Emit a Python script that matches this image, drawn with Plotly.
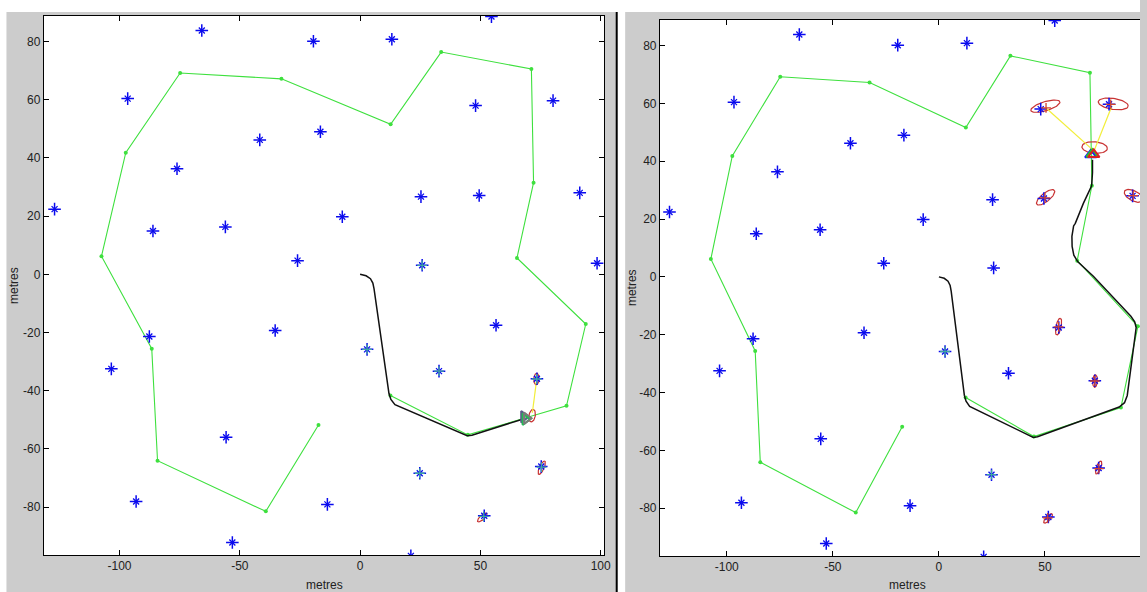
import numpy as np
import plotly.graph_objects as go

# ---------------------------------------------------------------- map data (metres)
# landmark positions
lm_x = [-65.8, -19.4, 13.2, 54.6, -96.6, 48.0, 80.2, -41.7, -16.5, -76.1, 25.3, 49.5,
        91.3, -127.0, -86.1, -56.0, -7.4, -26.0, 25.8, 98.5, 56.5, -35.3, -87.6, 2.9,
        -103.4, 32.8, 73.5, -55.7, 75.3, 24.8, -93.1, -13.6, 51.6, -53.1, 21.1]
lm_y = [83.8, 80.1, 80.8, 88.6, 60.4, 58.0, 59.7, 46.2, 49.0, 36.3, 26.7, 27.1,
        28.0, 22.4, 14.9, 16.3, 19.8, 4.7, 3.1, 3.8, -17.5, -19.3, -21.4, -25.8,
        -32.5, -33.3, -35.9, -56.0, -66.1, -68.4, -78.1, -79.1, -83.0, -92.2, -96.8]

# waypoint route
wp_x = [12.6, 44.8, 85.8, 93.8, 65.2, 72.1, 71.2, 33.7, 12.7, -32.7, -74.8, -97.4,
        -107.5, -86.6, -84.2, -39.2, -17.3]
wp_y = [-41.7, -55.2, -45.2, -17.1, 5.6, 31.5, 70.6, 76.4, 51.6, 67.2, 69.2, 41.8,
        6.2, -25.6, -64.1, -81.5, -51.8]

# vehicle trajectory, early snapshot
path_a_x = [0.0, 2.5, 4.3, 5.3, 5.8, 12.0, 12.8, 14.5, 44.5, 46.5, 67.5]
path_a_y = [0.0, -0.5, -1.5, -3.0, -5.0, -41.0, -43.0, -44.8, -55.5, -55.3, -49.8]

# vehicle trajectory, later snapshot
path_b_x = [0.0, 2.5, 4.3, 5.3, 5.8, 12.0, 12.8, 14.5, 44.5, 46.5, 85.0, 87.5, 88.8,
            92.8, 93.0, 92.3, 90.5, 72.8, 65.5, 63.6, 62.8, 62.7, 63.5, 64.3, 68.1,
            72.0, 72.4, 72.4]
path_b_y = [0.0, -0.5, -1.5, -3.0, -5.0, -41.0, -43.0, -44.8, -55.5, -55.3, -45.0,
            -43.5, -41.0, -20.0, -17.5, -15.5, -13.6, 0.2, 5.2, 7.5, 10.5, 14.0,
            17.6, 18.5, 25.4, 31.5, 36.0, 40.5]

# estimated landmark positions (early snapshot)
est_a_x = [25.8, 2.9, 32.8, 73.4, 75.4, 24.8, 51.4]
est_a_y = [3.1, -25.8, -33.3, -36.0, -66.3, -68.4, -83.2]

# estimated landmark positions (later snapshot): recently observed / older
est_b_x = [50.5, 81.0, 50.0, 91.6, 56.4, 73.5, 75.4, 51.3]
est_b_y = [58.4, 59.6, 27.3, 28.1, -17.3, -36.0, -66.3, -83.3]
est_b_old_x = [24.8, 2.9]
est_b_old_y = [-68.4, -25.8]

# covariance ellipses: centre, semi-axes, orientation (deg)
ell_a_cx = [73.3, 71.5, 75.5, 50.8]
ell_a_cy = [-36.0, -48.6, -66.5, -83.6]
ell_a_a = [2.0, 2.2, 2.6, 2.4]
ell_a_b = [1.1, 1.3, 0.9, 0.8]
ell_a_ang = [85.0, 75.0, 60.0, 35.0]

ell_b_cx = [50.2, 82.2, 73.4, 50.3, 91.8, 56.4, 73.6, 75.3, 51.5]
ell_b_cy = [59.0, 59.8, 44.7, 27.5, 28.0, -17.2, -36.0, -65.9, -83.5]
ell_b_a = [7.0, 7.1, 6.0, 4.8, 4.6, 3.0, 2.2, 2.5, 2.5]
ell_b_b = [1.6, 1.9, 2.0, 1.6, 1.8, 1.2, 1.1, 1.0, 0.9]
ell_b_ang = [12.0, -6.0, -3.0, 28.0, -18.0, 72.0, 85.0, 60.0, 35.0]

# observation rays: vehicle -> landmark estimate
obs_a = [((71.6, -47.6), (73.4, -36.2))]
obs_b = [((72.4, 44.0), (50.5, 58.4)), ((73.4, 44.0), (81.5, 59.0))]

# vehicle pose markers (true, odometry, estimate)
veh_a_x = [68.0, 68.6, 69.2]
veh_a_y = [-49.0, -49.8, -49.5]
veh_b_x = [71.6, 72.3, 73.0]
veh_b_y = [42.2, 42.4, 42.3]
veh_a_colors = ["#5a5a8a", "#22bb55", "#7a7a7a"]
veh_b_colors = ["#1a1aff", "#22cc22", "#dd2020"]

x_tick_vals = [-100, -50, 0, 50, 100]
x_tick_text = ["-100", "-50", "0", "50", "100"]
y_tick_vals = [-80, -60, -40, -20, 0, 20, 40, 60, 80]
y_tick_text = ["-80", "-60", "-40", "-20", "0", "20", "40", "60", "80"]

# ---------------------------------------------------------------- styling
W, H = 1147, 592
GREEN = "#3ee03e"
BLUE = "#0a0aee"
RED = "#c83232"
EST_RED = "#d2452e"
YELLOW = "#f2ee3a"
TEAL = "#3fa8a0"
FIG_GRAY = "#cccccc"
FONT = "Liberation Sans Narrow, Arial Narrow, Liberation Sans, sans-serif"


def ellipse_pts(cx, cy, a, b, ang):
    t = np.linspace(0, 2 * np.pi, 60)
    th = np.deg2rad(ang)
    ex = a * np.cos(t)
    ey = b * np.sin(t)
    xs = cx + ex * np.cos(th) - ey * np.sin(th)
    ys = cy + ex * np.sin(th) + ey * np.cos(th)
    return list(xs) + [None], list(ys) + [None]


def star_traces(xs, ys, color, xa, ya):
    # MATLAB-style '*': a long plus with shorter diagonals
    return [
        go.Scatter(x=xs, y=ys, mode="markers", xaxis=xa, yaxis=ya,
                   marker=dict(symbol="cross-thin-open", size=9, color=color,
                               line=dict(color=color, width=1.5))),
        go.Scatter(x=xs, y=ys, mode="markers", xaxis=xa, yaxis=ya,
                   marker=dict(symbol="x-thin-open", size=6, color=color,
                               line=dict(color=color, width=1.3))),
    ]


def panel_traces(xa, ya, path_x, path_y, ests, ells, obs, veh_x, veh_y, veh_cols, veh_sym):
    tr = []
    # waypoints
    tr.append(go.Scatter(x=wp_x, y=wp_y, mode="lines+markers", xaxis=xa, yaxis=ya,
                         line=dict(color=GREEN, width=1.1),
                         marker=dict(color=GREEN, size=4, symbol="circle")))
    # covariance ellipses
    ex, ey = [], []
    for cx, cy, a, b, ang in zip(*ells):
        px, py = ellipse_pts(cx, cy, a, b, ang)
        ex += px
        ey += py
    tr.append(go.Scatter(x=ex, y=ey, mode="lines", xaxis=xa, yaxis=ya,
                         line=dict(color=RED, width=1.2)))
    # observation rays
    ox, oy = [], []
    for (p0, p1) in obs:
        ox += [p0[0], p1[0], None]
        oy += [p0[1], p1[1], None]
    tr.append(go.Scatter(x=ox, y=oy, mode="lines", xaxis=xa, yaxis=ya,
                         line=dict(color=YELLOW, width=1.2)))
    # trajectory
    tr.append(go.Scatter(x=path_x, y=path_y, mode="lines", xaxis=xa, yaxis=ya,
                         line=dict(color="#111111", width=1.5)))
    # landmarks
    tr += star_traces(lm_x, lm_y, BLUE, xa, ya)
    # landmark estimates
    for ex_, ey_, col in ests:
        tr.append(go.Scatter(x=ex_, y=ey_, mode="markers", xaxis=xa, yaxis=ya,
                             marker=dict(symbol="cross-thin-open", size=7, color=col,
                                         line=dict(color=col, width=1.3))))
    # vehicle
    for vx, vy, c in zip(veh_x, veh_y, veh_cols):
        tr.append(go.Scatter(x=[vx], y=[vy], mode="markers", xaxis=xa, yaxis=ya,
                             marker=dict(symbol=veh_sym, size=10, color=c,
                                         line=dict(color=c, width=2))))
    return tr


fig = go.Figure()
for t in panel_traces("x", "y", path_a_x, path_a_y,
                      [(est_a_x, est_a_y, TEAL)],
                      (ell_a_cx, ell_a_cy, ell_a_a, ell_a_b, ell_a_ang),
                      obs_a, veh_a_x, veh_a_y, veh_a_colors, "triangle-right-open"):
    fig.add_trace(t)
for t in panel_traces("x2", "y2", path_b_x, path_b_y,
                      [(est_b_x, est_b_y, EST_RED), (est_b_old_x, est_b_old_y, TEAL)],
                      (ell_b_cx, ell_b_cy, ell_b_a, ell_b_b, ell_b_ang),
                      obs_b, veh_b_x, veh_b_y, veh_b_colors, "triangle-up-open"):
    fig.add_trace(t)

axis_common = dict(showgrid=False, zeroline=False, showline=True, linecolor="#000",
                   linewidth=1, ticks="inside", ticklen=5, tickcolor="#000",
                   tickfont=dict(family=FONT, size=12, color="#222"))

white_box = dict(type="rect", xref="paper", yref="paper", fillcolor="white",
                 line=dict(width=0), layer="below")

fig.update_layout(
    width=W, height=H, margin=dict(l=0, r=0, t=0, b=0),
    paper_bgcolor=FIG_GRAY, plot_bgcolor="white", showlegend=False,
    xaxis=dict(domain=[44 / W, 608 / W], range=[-131.5, 101.5], anchor="y",
               tickvals=x_tick_vals, ticktext=x_tick_text, mirror="ticks", **axis_common),
    yaxis=dict(domain=[1 - 555 / H, 1 - 16 / H], range=[-96.5, 88.8], anchor="x",
               tickvals=y_tick_vals, ticktext=y_tick_text, mirror="ticks", **axis_common),
    xaxis2=dict(domain=[664 / W, 1.0], range=[-131.5, 94.8], anchor="y2",
                tickvals=x_tick_vals, ticktext=x_tick_text, mirror="ticks", **axis_common),
    yaxis2=dict(domain=[1 - 556 / H, 1 - 20 / H], range=[-96.5, 88.8], anchor="x2",
                tickvals=y_tick_vals, ticktext=y_tick_text, mirror=False, **axis_common),
    shapes=[
        # white page margins around the two figure windows
        dict(white_box, x0=0, x1=1, y0=1 - 12 / H, y1=1),
        dict(white_box, x0=0, x1=6.5 / W, y0=0, y1=1),
        dict(white_box, x0=620 / W, x1=629 / W, y0=0, y1=1),
        # window divider
        dict(type="line", xref="paper", yref="paper", x0=620.5 / W, x1=620.5 / W,
             y0=0, y1=1 - 12 / H, line=dict(color="#000", width=2)),
    ],
    annotations=[
        dict(text="metres", xref="paper", yref="paper", x=326 / W, y=1 - 585 / H,
             showarrow=False, font=dict(family=FONT, size=12, color="#222"),
             xanchor="center", yanchor="middle"),
        dict(text="metres", xref="paper", yref="paper", x=913 / W, y=1 - 585 / H,
             showarrow=False, font=dict(family=FONT, size=12, color="#222"),
             xanchor="center", yanchor="middle"),
        dict(text="metres", xref="paper", yref="paper", x=14 / W, y=1 - 285 / H,
             showarrow=False, textangle=-90, font=dict(family=FONT, size=12, color="#222"),
             xanchor="center", yanchor="middle"),
        dict(text="metres", xref="paper", yref="paper", x=636 / W, y=1 - 288 / H,
             showarrow=False, textangle=-90, font=dict(family=FONT, size=12, color="#222"),
             xanchor="center", yanchor="middle"),
    ],
)

fig.write_html("out.html")
